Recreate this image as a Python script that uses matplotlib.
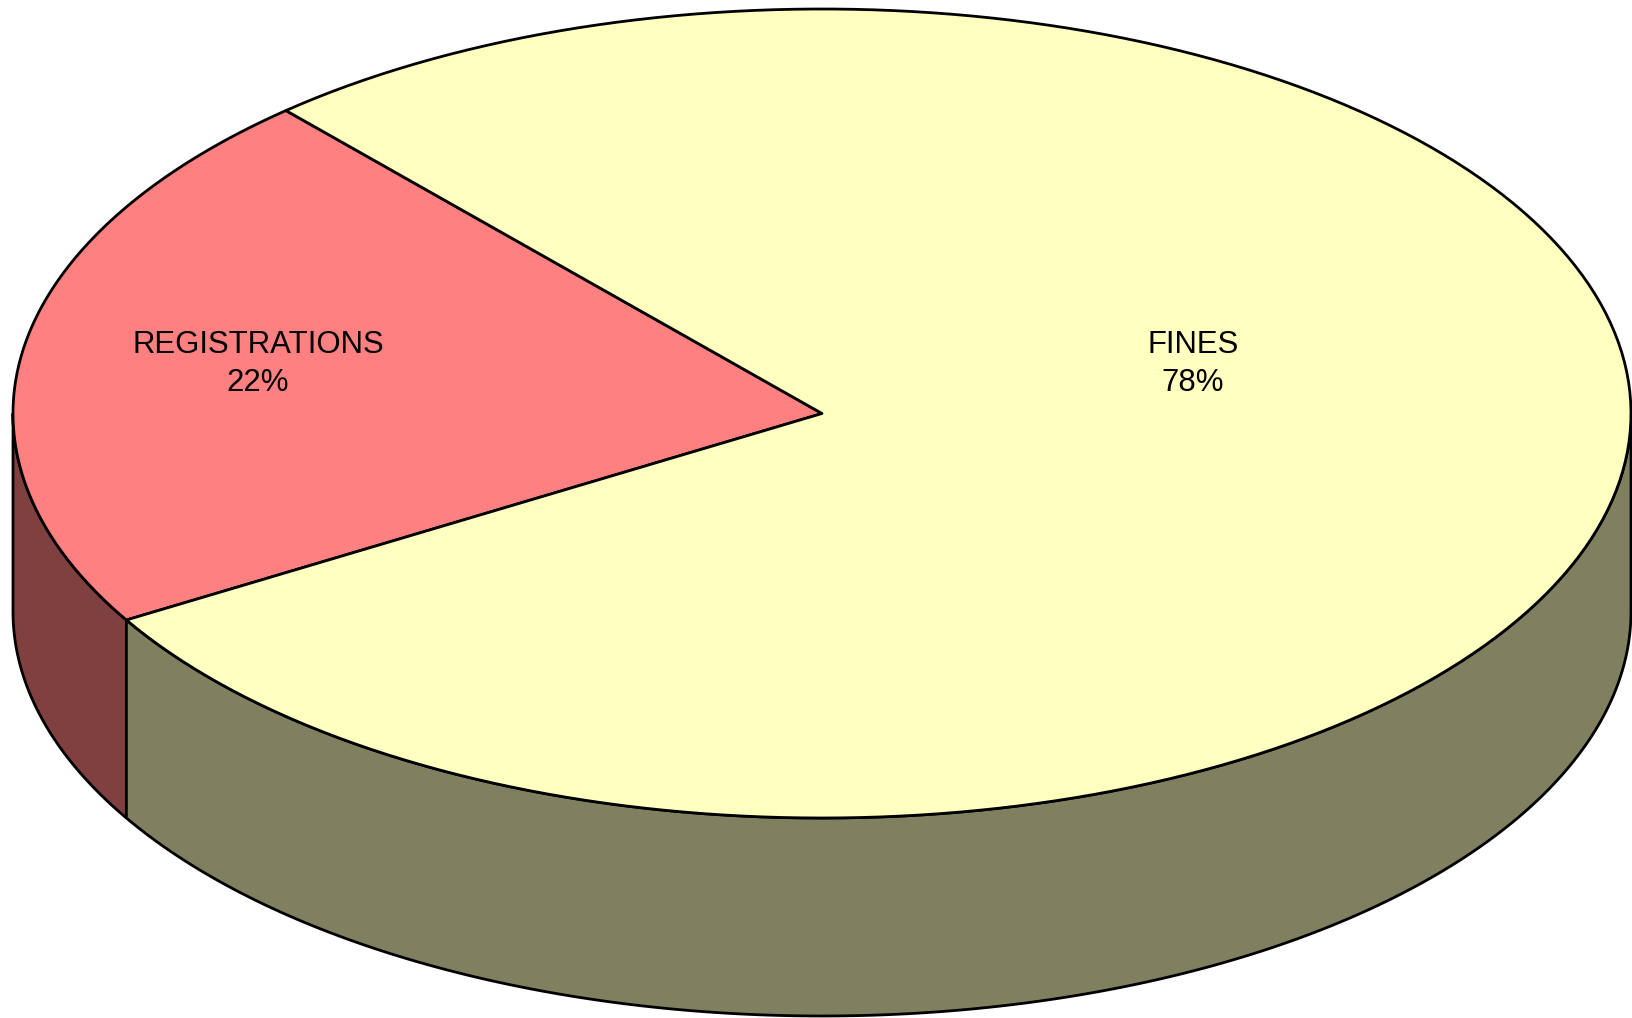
import numpy as np
import matplotlib.pyplot as plt
from matplotlib.patches import Polygon

labels = ["REGISTRATIONS", "FINES"]
values = [22, 78]
top_colors = ["#FF8080", "#FFFFC0"]
side_colors = ["#804040", "#808060"]
label_pos = [(258, 364), (1193, 364)]

# ellipse geometry in pixel units
cx, cy = 822, 413.5
a, b = 809, 404.5
depth = 198
start = 131.5

fig = plt.figure(figsize=(16.33, 10.18), dpi=100)
ax = fig.add_axes([0, 0, 1, 1])
ax.set_xlim(0, 1633)
ax.set_ylim(1018, 0)
ax.axis("off")


def arc(t1, t2, dy=0, n=200):
    t = np.radians(np.linspace(t1, t2, n))
    return np.column_stack([cx + a * np.cos(t), cy - b * np.sin(t) + dy])


total = sum(values)
angles = [start]
for v in values:
    angles.append(angles[-1] + 360 * v / total)

# side walls (only the front half, 180..360 deg)
for i in range(len(values)):
    t1, t2 = angles[i], angles[i + 1]
    for k in range(-1, 2):
        lo = max(t1, 180 + 360 * k)
        hi = min(t2, 360 + 360 * k)
        if hi > lo:
            top = arc(lo, hi)
            bot = arc(hi, lo, depth)
            ax.add_patch(Polygon(np.vstack([top, bot]), closed=True,
                                 facecolor=side_colors[i], edgecolor="black",
                                 lw=2.0, joinstyle="round"))

# top wedges
for i in range(len(values)):
    pts = np.vstack([[cx, cy], arc(angles[i], angles[i + 1])])
    ax.add_patch(Polygon(pts, closed=True, facecolor=top_colors[i],
                         edgecolor="black", lw=2.0, joinstyle="round"))

for i in range(len(values)):
    x, y = label_pos[i]
    ax.text(x, y, f"{labels[i]}\n{values[i]}%", ha="center", va="center",
            fontsize=22.4, family="Liberation Sans", linespacing=1.38)

fig.savefig("out.png", dpi=100)
